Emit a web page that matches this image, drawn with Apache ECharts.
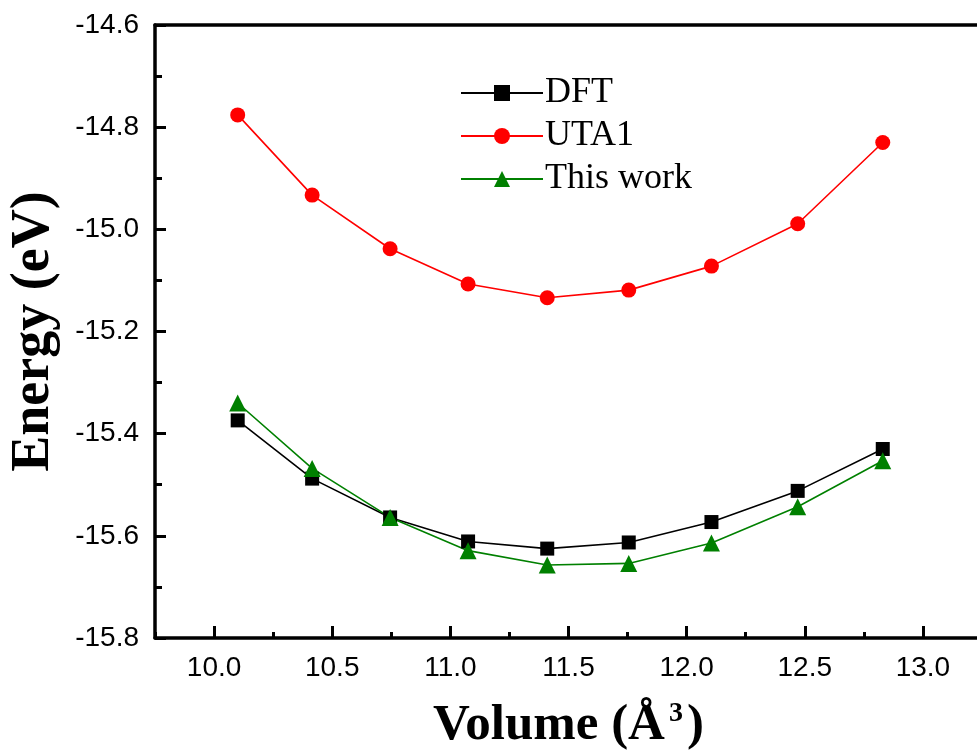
<!DOCTYPE html>
<html>
<head>
<meta charset="utf-8">
<script src="https://cdn.jsdelivr.net/npm/echarts@6/dist/echarts.min.js"></script>
<style>html,body{margin:0;padding:0;background:#fff}#c{width:977px;height:756px}</style>
</head>
<body>
<div id="c"></div>
<script>
const volume = [10.10, 10.415, 10.745, 11.075, 11.41, 11.755, 12.105, 12.47, 12.83];
const dft = [-15.374, -15.488, -15.564, -15.611, -15.625, -15.613, -15.573, -15.512, -15.430];
const uta1 = [-14.776, -14.933, -15.038, -15.107, -15.134, -15.119, -15.072, -14.989, -14.830];
const thisWork = [-15.340, -15.468, -15.564, -15.629, -15.657, -15.654, -15.614, -15.543, -15.453];
const xTicks = [10.0, 10.5, 11.0, 11.5, 12.0, 12.5, 13.0];
const yTicks = [-15.8, -15.6, -15.4, -15.2, -15.0, -14.8, -14.6];

const pairs = ys => volume.map((v, i) => [v, ys[i]]);
const serif = '"Liberation Serif","Times New Roman",serif';
const sans = '"Liberation Sans",Arial,sans-serif';

const chart = echarts.init(document.getElementById('c'), null, {renderer: 'canvas'});
chart.setOption({
  animation: false,
  backgroundColor: '#fff',
  grid: {left: 155, top: 25, width: 827, height: 613, containLabel: false, outerBoundsMode: 'none'},
  legend: {
    orient: 'vertical', left: 455, top: 70,
    itemWidth: 82, itemHeight: 20, itemGap: 7,
    textStyle: {fontFamily: serif, fontSize: 36, color: '#000', lineHeight: 36, padding: [0, 0, 0, -3]},
    data: ['DFT', 'UTA1', 'This work']
  },
  xAxis: [
    {
      type: 'value', position: 'bottom', min: 9.75, max: 13.25,
      axisLine: {onZero: false, lineStyle: {color: '#000', width: 3.5}},
      axisTick: {inside: true, length: 12, lineStyle: {color: '#000', width: 3}, customValues: xTicks},
      axisLabel: {customValues: xTicks, color: '#000', fontFamily: sans, fontSize: 28, margin: 16,
        formatter: v => v.toFixed(1)},
      splitLine: {show: false},
      name: '{a|Volume (Å}{s|3}{a|)}', nameLocation: 'middle', nameGap: 62,
      nameTextStyle: {rich: {
        a: {fontFamily: serif, fontWeight: 'bold', fontSize: 51, color: '#000', lineHeight: 52},
        s: {fontFamily: serif, fontWeight: 'bold', fontSize: 28, color: '#000', verticalAlign: 'top', lineHeight: 52, padding: [0, 4, 26, 4]}
      }}
    },
    {
      type: 'value', position: 'bottom', min: 9.75, max: 13.25, interval: 0.25,
      axisLine: {show: false, onZero: false},
      axisTick: {inside: true, length: 6, lineStyle: {color: '#000', width: 3}},
      axisLabel: {show: false}, splitLine: {show: false}
    },
    {
      type: 'value', position: 'top', min: 9.75, max: 13.25,
      axisLine: {onZero: false, lineStyle: {color: '#000', width: 3.5}},
      axisTick: {show: false}, axisLabel: {show: false}, splitLine: {show: false}
    }
  ],
  yAxis: {
    type: 'value', min: -15.8, max: -14.6, interval: 0.2,
    axisLine: {onZero: false, lineStyle: {color: '#000', width: 3.5}},
    axisTick: {inside: true, length: 11, lineStyle: {color: '#000', width: 3}},
    minorTick: {show: true, splitNumber: 2, length: 7, lineStyle: {color: '#000', width: 3}},
    axisLabel: {color: '#000', fontFamily: sans, fontSize: 28, margin: 16, formatter: v => v.toFixed(1)},
    splitLine: {show: false},
    name: 'Energy (eV)', nameLocation: 'middle', nameGap: 94,
    nameTextStyle: {fontFamily: serif, fontWeight: 'bold', fontSize: 54, color: '#000'}
  },
  series: [
    {name: 'DFT', type: 'line', data: pairs(dft), symbol: 'rect', symbolSize: 14,
      lineStyle: {color: '#000', width: 1.6}, itemStyle: {color: '#000'}},
    {name: 'UTA1', type: 'line', data: pairs(uta1), symbol: 'circle', symbolSize: 15,
      lineStyle: {color: '#ff0000', width: 1.6}, itemStyle: {color: '#ff0000'}},
    {name: 'This work', type: 'line', data: pairs(thisWork), symbol: 'triangle', symbolSize: 17,
      lineStyle: {color: '#008000', width: 1.6}, itemStyle: {color: '#008000'}}
  ]
});
</script>
</body>
</html>
